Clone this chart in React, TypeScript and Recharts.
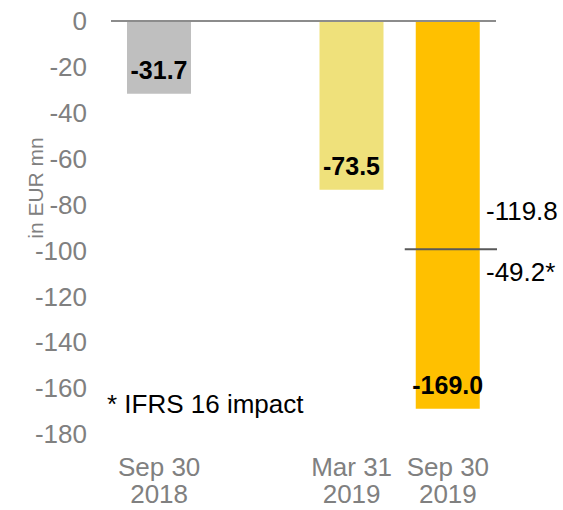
import { BarChart, Bar, XAxis, YAxis, Cell, LabelList, ReferenceLine } from "recharts";

const periods = ["Sep 30", "", "Mar 31", "Sep 30"];
const years = ["2018", "", "2019", "2019"];
const values: (number | null)[] = [-31.7, null, -73.5, -169.0];
const barColors = ["#BFBFBF", "#FFFFFF", "#EFE17B", "#FFC000"];
const yTicks = [0, -20, -40, -60, -80, -100, -120, -140, -160, -180];
const splitValue = -99.5;
const splitLabels = ["-119.8", "-49.2*"];
const footnote = "* IFRS 16 impact";
const axisTitle = "in EUR mn";

const data = periods.map((p, i) => ({ key: `${p} ${years[i]}`, value: values[i] }));

const FONT = "'Liberation Sans', Arial, sans-serif";

const XTick = (props: any) => {
  const { x, y, payload } = props;
  const i = payload.index;
  return (
    <g>
      <text x={x} y={y + 42} textAnchor="middle" fontSize={26} fill="#808080" fontFamily={FONT}>
        {periods[i]}
      </text>
      <text x={x} y={y + 69} textAnchor="middle" fontSize={26} fill="#808080" fontFamily={FONT}>
        {years[i]}
      </text>
    </g>
  );
};

const BarValueLabel = (props: any) => {
  const { x, y, width, height, value } = props;
  if (value == null) return null;
  const bottom = Math.max(Number(y), Number(y) + Number(height));
  return (
    <text
      x={Number(x) + Number(width) / 2}
      y={bottom - 24}
      textAnchor="middle"
      dominantBaseline="central"
      fontSize={25}
      fontWeight="bold"
      fill="#000"
      fontFamily={FONT}
    >
      {Number(value).toFixed(1)}
    </text>
  );
};

const SplitLine = (props: any) => {
  const { x1, x2, y1 } = props;
  const band = (x2 - x1) / data.length;
  const start = x1 + 3 * band + 5;
  return (
    <g>
      <line x1={start} x2={x2 + 1} y1={y1} y2={y1} stroke="#595959" strokeWidth={2} />
      <text x={x2 - 10} y={y1 - 38} dominantBaseline="central" fontSize={26} fill="#000" fontFamily={FONT}>
        {splitLabels[0]}
      </text>
      <text x={x2 - 10} y={y1 + 23} dominantBaseline="central" fontSize={26} fill="#000" fontFamily={FONT}>
        {splitLabels[1]}
      </text>
    </g>
  );
};

const AxisTitle = (props: any) => {
  const { viewBox } = props;
  const cx = viewBox.x + 35;
  const cy = viewBox.y + 167;
  return (
    <text
      x={cx}
      y={cy}
      transform={`rotate(-90 ${cx} ${cy})`}
      textAnchor="middle"
      dominantBaseline="central"
      fontSize={21}
      fill="#808080"
      fontFamily={FONT}
    >
      {axisTitle}
    </text>
  );
};

export default function App() {
  return (
    <div style={{ position: "absolute", left: 0, top: 0, width: 563, height: 510, background: "#fff" }}>
      <BarChart width={563} height={510} data={data} margin={{ top: 21, right: 67, bottom: 0, left: 0 }}>
        <XAxis dataKey="key" axisLine={false} tickLine={false} tickSize={0} tickMargin={0} height={76} tick={<XTick />} interval={0} />
        <YAxis
          domain={[-180, 0]}
          ticks={yTicks}
          width={111}
          axisLine={false}
          tickLine={false}
          tickSize={0}
          tickMargin={24}
          tick={{ fontSize: 26, fill: "#808080", fontFamily: FONT }}
          label={(p: any) => <AxisTitle {...p} />}
        />
        <Bar dataKey="value" barSize={64} isAnimationActive={false}>
          {data.map((_, i) => (
            <Cell key={i} fill={barColors[i]} />
          ))}
          <LabelList dataKey="value" content={<BarValueLabel />} />
        </Bar>
        <ReferenceLine y={0} stroke="#8C8C8C" strokeWidth={2} />
        <ReferenceLine y={splitValue} shape={(p: any) => <SplitLine {...p} />} />
      </BarChart>
      <div
        style={{
          position: "absolute",
          left: 107,
          top: 391,
          fontSize: 26,
          lineHeight: "26px",
          fontFamily: FONT,
          color: "#000",
          whiteSpace: "nowrap",
        }}
      >
        {footnote}
      </div>
    </div>
  );
}
